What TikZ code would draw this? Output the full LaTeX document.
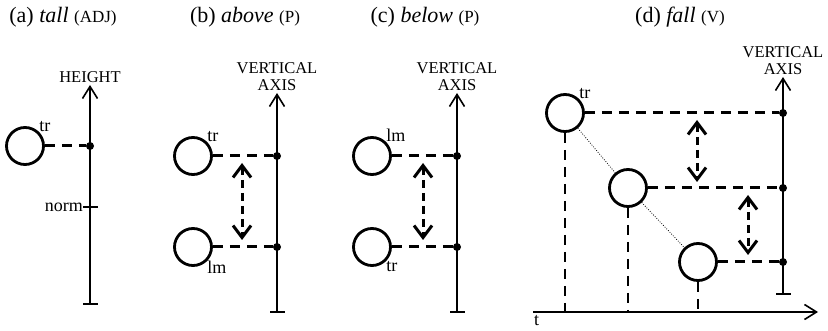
\documentclass[tikz,border=0pt]{standalone}
\usepackage{fontspec}
\setmainfont{Liberation Serif}
\usetikzlibrary{arrows.meta, positioning}

\newcommand{\smallcat}[1]{{\fontsize{17}{19}\selectfont(#1)}}

\begin{document}
\begin{tikzpicture}[x=1pt, y=-1pt,
  obj/.style={draw, circle, line width=2.8pt, minimum size=37pt, inner sep=0pt},
  axdot/.style={circle, fill, inner sep=0pt, minimum size=8pt},
  ttl/.style={font=\fontsize{22}{24}\selectfont, inner sep=0pt},
  axlbl/.style={font=\fontsize{16.5}{17}\selectfont, align=center, inner sep=1pt},
  lbl/.style={font=\fontsize{18}{20}\selectfont, inner sep=0pt},
  vaxis/.style={line width=1.6pt, {Bar[width=15pt]}-{Straight Barb[length=12pt,width=15pt]}},
  taxis/.style={line width=1.6pt, -{Straight Barb[length=12pt,width=15pt]}},
  proj/.style={line width=3pt, dash pattern=on 10pt off 7pt},
  diff/.style={line width=3pt, dash pattern=on 8pt off 5pt,
    {Straight Barb[length=12pt,width=18pt]}-{Straight Barb[length=12pt,width=18pt]}},
  tline/.style={line width=1.5pt, dash pattern=on 10pt off 7pt},
  trail/.style={line width=0.8pt, dash pattern=on 0.8pt off 1.6pt}]
  \useasboundingbox (0,0) rectangle (828,331);

  % (a) tall
  \node[ttl] (ta) at (63,17) {(a) \textit{tall} \smallcat{ADJ}};
  \coordinate (a-lo) at (90,305);
  \coordinate (a-hi) at (90,85);
  \draw[vaxis] (a-lo) -- (a-hi);
  \node[axlbl, above=1pt of a-hi] (a-name) {HEIGHT};
  \node[obj, label={[lbl]north east:tr}] (a1) at (25,146) {};
  \node[axdot] (a1d) at (90,146) {};
  \draw[proj] (a1) -- (a1d);
  \node[lbl, anchor=east] (norm) at (83,207) {norm};
  \coordinate (norm-r) at (98,207);
  \draw[line width=1.6pt] (norm.east) -- (norm-r);

  % (b) above
  \node[ttl] (tb) at (245,17) {(b) \textit{above} \smallcat{P}};
  \coordinate (b-lo) at (277,313);
  \coordinate (b-hi) at (277,93);
  \draw[vaxis] (b-lo) -- (b-hi);
  \node[axlbl, above=1pt of b-hi] (b-name) {VERTICAL\\AXIS};
  \node[obj, label={[lbl]north east:tr}] (b1) at (193,156) {};
  \node[obj, label={[lbl]south east:lm}] (b2) at (193,247) {};
  \node[axdot] (b1d) at (277,156) {};
  \node[axdot] (b2d) at (277,247) {};
  \draw[proj] (b1) -- (b1d);
  \draw[proj] (b2) -- (b2d);
  \coordinate (b-up) at (242,163);
  \coordinate (b-dn) at (242,240);
  \draw[diff] (b-up) -- (b-dn);

  % (c) below
  \node[ttl] (tc) at (425,17) {(c) \textit{below} \smallcat{P}};
  \coordinate (c-lo) at (457,313);
  \coordinate (c-hi) at (457,93);
  \draw[vaxis] (c-lo) -- (c-hi);
  \node[axlbl, above=1pt of c-hi] (c-name) {VERTICAL\\AXIS};
  \node[obj, label={[lbl]north east:lm}] (c1) at (372,156) {};
  \node[obj, label={[lbl]south east:tr}] (c2) at (372,247) {};
  \node[axdot] (c1d) at (457,156) {};
  \node[axdot] (c2d) at (457,247) {};
  \draw[proj] (c1) -- (c1d);
  \draw[proj] (c2) -- (c2d);
  \coordinate (c-up) at (423,163);
  \coordinate (c-dn) at (423,240);
  \draw[diff] (c-up) -- (c-dn);

  % (d) fall
  \node[ttl] (td) at (680,17) {(d) \textit{fall} \smallcat{V}};
  \coordinate (d-lo) at (783,295);
  \coordinate (d-hi) at (783,77);
  \draw[vaxis] (d-lo) -- (d-hi);
  \node[axlbl, above=1pt of d-hi] (d-name) {VERTICAL\\AXIS};
  \coordinate (t-lo) at (533,312);
  \coordinate (t-hi) at (818,312);
  \draw[taxis] (t-lo) -- (t-hi);
  \node[lbl, anchor=north west] (t) at (534,315) {t};
  \node[obj, label={[lbl]north east:tr}] (d1) at (565,113) {};
  \node[obj] (d2) at (628,188) {};
  \node[obj] (d3) at (698,262) {};
  \node[axdot] (d1d) at (783,113) {};
  \node[axdot] (d2d) at (783,188) {};
  \node[axdot] (d3d) at (783,262) {};
  \draw[proj] (d1) -- (d1d);
  \draw[proj] (d2) -- (d2d);
  \draw[proj] (d3) -- (d3d);
  \draw[tline] (d1.south) -- (d1.south |- t-lo);
  \draw[tline] (d2.south) -- (d2.south |- t-lo);
  \draw[tline] (d3.south) -- (d3.south |- t-lo);
  \draw[trail] (d1) -- (d2);
  \draw[trail] (d2) -- (d3);
  \coordinate (d-up1) at (697,120);
  \coordinate (d-dn1) at (697,182);
  \coordinate (d-up2) at (748,195);
  \coordinate (d-dn2) at (748,255);
  \draw[diff] (d-up1) -- (d-dn1);
  \draw[diff] (d-up2) -- (d-dn2);
\end{tikzpicture}
\end{document}
